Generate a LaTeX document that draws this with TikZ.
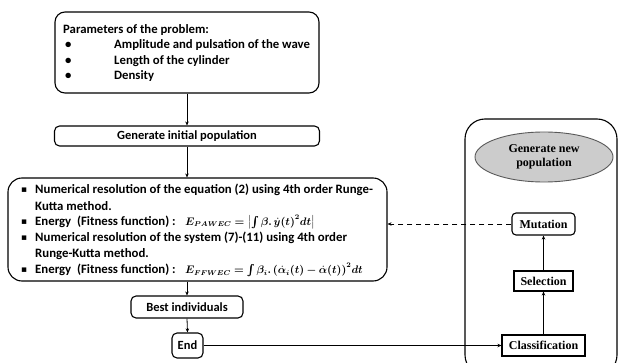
\documentclass[tikz,border=0pt]{standalone}
\usepackage{amsmath,bm}
\usepackage{fontspec}
\setmainfont{Carlito}
\newfontfamily\tnr{Liberation Serif}
\newfontfamily\djv{DejaVu Sans}
\usetikzlibrary{arrows.meta,shapes.geometric}
\definecolor{ellfill}{gray}{0.80}
\definecolor{elldraw}{gray}{0.35}
\begin{document}
\begin{tikzpicture}[x=1pt,y=-1pt,
  box/.style={draw,line width=1.1pt,rounded corners=#1,inner sep=0pt},
  box/.default=5pt,
  sbox/.style={draw,line width=1.1pt,inner sep=0pt},
  txt/.style={anchor=west,inner sep=0pt,font=\fontsize{12.8}{14}\selectfont\bfseries},
  ttxt/.style={anchor=west,inner sep=0pt,font=\fontsize{12.75}{15}\selectfont\bfseries},
  ctxt/.style={font=\fontsize{12.5}{14}\selectfont\bfseries},
  lab/.style={font=\fontsize{12}{14}\selectfont\tnr\bfseries},
  fml/.style={anchor=west,inner sep=0pt,font=\fontsize{10.5}{12}\selectfont},
  bul/.style={anchor=west,inner sep=0pt,font=\fontsize{9}{11}\selectfont\djv},
  arr/.style={line width=0.8pt,-{Stealth[length=4pt,width=3.5pt]}},
  darr/.style={line width=0.9pt,dash pattern=on 5pt off 4pt,-{Stealth[length=4pt,width=3.5pt]}}]
\clip (0,0) rectangle (618,363);
\fill[white] (0,0) rectangle (618,363);

% top box
\node[box=10pt,minimum width=264pt,minimum height=81pt] (top) at (187,52.5) {};
\node[ttxt] (p0) at (63,30) {Parameters of the problem:};
\node[ttxt] (pb1) at (65,45.5) {•};
\node[ttxt] (p1) at (114,45.5) {Amplitude and pulsation of the wave};
\node[ttxt] (pb2) at (65,61) {•};
\node[ttxt] (p2) at (114,61) {Length of the cylinder};
\node[ttxt] (pb3) at (65,76) {•};
\node[ttxt] (p3) at (114,76) {Density};

% generate initial population
\node[box=5pt,ctxt,minimum width=265pt,minimum height=20pt] (gen) at (187,136) {Generate initial population};

% big box
\node[box=14pt,minimum width=379pt,minimum height=103pt] (big) at (197.5,229.5) {};
\node[bul] (q1) at (21,190) {▪};
\node[txt] (l1) at (35,190) {Numerical resolution of the equation (2) using 4th order Runge-};
\node[txt] (l2) at (35,206) {Kutta method.};
\node[bul] (q2) at (21,222) {▪};
\node[txt] (l3) at (35,222) {Energy\ \ (Fitness function) :};
\node[fml] (f1) at (185,222) {$\bm{E_{PAWEC}=\bigl|\int\beta.\,\dot{y}(t)^2dt\bigr|}$};
\node[bul] (q3) at (21,238) {▪};
\node[txt] (l4) at (35,238) {Numerical resolution of the system (7)-(11) using 4th order};
\node[txt] (l5) at (35,254) {Runge-Kutta method.};
\node[bul] (q4) at (21,270) {▪};
\node[txt] (l6) at (35,270) {Energy\ \ (Fitness function) :};
\node[fml] (f2) at (185,270) {$\bm{E_{FFWEC}=\int\beta_i.\,(\dot{\alpha}_i(t)-\dot{\alpha}(t))^2dt}$};

% best individuals / end
\node[box=5pt,ctxt,minimum width=112pt,minimum height=22pt] (best) at (187,307) {Best individuals};
\node[box=5pt,ctxt,minimum width=31pt,minimum height=25pt] (end) at (187.5,345.5) {End};

% right container
\node[box=20pt,minimum width=152pt,minimum height=256pt] (outer) at (541,247) {};
\node[ellipse,draw=elldraw,fill=ellfill,line width=0.9pt,minimum width=138pt,minimum height=50pt,inner sep=0pt,lab,align=center] (gnp) at (544,157) {Generate new\\population};
\node[box=4pt,lab,minimum width=63pt,minimum height=22pt] (mut) at (543.5,224) {Mutation};
\node[sbox,lab,minimum width=59pt,minimum height=20pt] (sel) at (543.5,281) {Selection};
\node[sbox,lab,minimum width=83pt,minimum height=21pt] (cla) at (543.5,345.5) {Classification};

% connectors
\draw[arr] (top.south) -- (gen.north);
\draw[arr] (gen.south) -- (gen.south |- big.north);
\draw[arr] (best.north |- big.south) -- (best.north);
\draw[arr] (best.south) -- (end.north);
\draw[arr] (end.east) -- (cla.west);
\draw[arr] (cla.north) -- (sel.south);
\draw[arr] (sel.north) -- (mut.south);
\draw[darr] (mut.west) -- (mut.west -| big.east);
\end{tikzpicture}
\end{document}
